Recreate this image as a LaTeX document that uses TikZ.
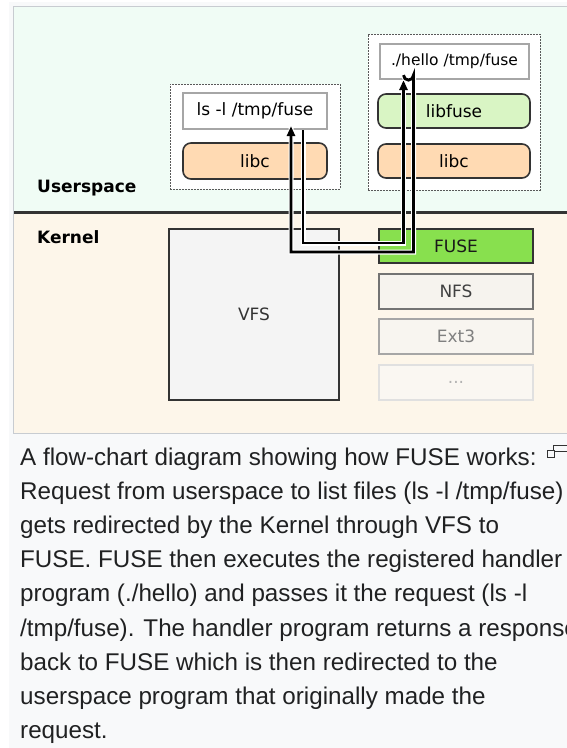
\documentclass[tikz,border=0pt]{standalone}
\usepackage{fontspec}
\setmainfont{Liberation Sans}
\newfontfamily\dv{DejaVu Sans}
\usetikzlibrary{arrows.meta}

\definecolor{userbg}{HTML}{F0FCF5}
\definecolor{kernbg}{HTML}{FDF6EA}
\definecolor{pagebg}{HTML}{F8F9FA}
\definecolor{framec}{HTML}{C8CCD1}
\definecolor{captxt}{HTML}{202122}
\definecolor{peach}{HTML}{FFDAB3}
\definecolor{lightgreen}{HTML}{D9F5C4}
\definecolor{fusegreen}{HTML}{88E04E}
\definecolor{vfsfill}{HTML}{F4F4F4}
\definecolor{nfsfill}{HTML}{F6F3EE}
\definecolor{extfill}{HTML}{F8F5F0}
\definecolor{morefill}{HTML}{FAF7F2}

\tikzset{
  grpbox/.style={draw=black!65, line width=0.9pt, dash pattern=on 1.8pt off 1.2pt,
    fill=white, inner sep=0pt},
  progbox/.style={draw=black!35, line width=2.2pt, fill=white, inner sep=0pt,
    font=\dv\fontsize{17}{20}\selectfont},
  libbox/.style={draw=black!80, line width=1.6pt, rounded corners=8pt, inner sep=0pt,
    font=\dv\fontsize{17}{20}\selectfont},
  kbox/.style={line width=2pt, inner sep=0pt, font=\dv\fontsize{17}{20}\selectfont},
  sidelabel/.style={anchor=base west, inner sep=0pt, font=\dv\bfseries\fontsize{17}{20}\selectfont},
  capline/.style={anchor=base west, inner sep=0pt, text=captxt,
    font=\fontsize{24.2}{28}\selectfont},
  conn/.style={line width=2.9pt, draw=black,
    preaction={draw=white, line width=5pt, arrows=-}},
  tipped/.style={-{Triangle[length=10pt,width=8pt]}}
}

\begin{document}
\begin{tikzpicture}[x=1pt,y=-1pt]
\useasboundingbox (0,0) rectangle (567,748);

% page and frame backgrounds
\fill[pagebg] (9,2) rectangle (590,760);
\fill[userbg] (14,7) rectangle (590,212.5);
\fill[kernbg] (14,212.5) rectangle (590,433);
\draw[framec, line width=1pt] (590,6.5) -| (13.5,433.5) -- (590,433.5);
\draw[black!80, line width=2.2pt] (14,212.5) -- (590,212.5);

% layer labels
\node[sidelabel] (userlbl) at (37,192) {Userspace};
\node[sidelabel] (kernlbl) at (37,243) {Kernel};

% userspace processes
\node[grpbox, minimum width=170pt, minimum height=105pt] (grpleft) at (255,136.5) {};
\node[grpbox, minimum width=172pt, minimum height=156pt] (grpright) at (454,112) {};

\node[progbox, minimum width=144pt, minimum height=36pt] (lsbox) at (255,111) {ls -l /tmp/fuse};
\node[libbox, fill=peach, minimum width=144pt, minimum height=36pt] (libcA) at (255,161) {libc};

\node[progbox, font=\dv\fontsize{15.5}{18}\selectfont, minimum width=149pt, minimum height=35pt] (hello) at (454.5,61.5) {./hello /tmp/fuse};
\node[libbox, fill=lightgreen, minimum width=152pt, minimum height=34pt] (libfuse) at (454,111) {libfuse};
\node[libbox, fill=peach, minimum width=152pt, minimum height=34pt] (libcB) at (454,161) {libc};

% kernel components
\node[kbox, draw=black!80, fill=vfsfill, text=black!80, minimum width=170pt, minimum height=171pt] (vfs) at (254,314.5) {VFS};
\node[kbox, draw=black!80, fill=fusegreen, text=black!90, minimum width=154pt, minimum height=34pt] (fuse) at (456,246) {FUSE};
\node[kbox, draw=black!55, fill=nfsfill, text=black!75, minimum width=154pt, minimum height=35pt] (nfs) at (456,291.5) {NFS};
\node[kbox, draw=black!35, fill=extfill, text=black!50, minimum width=154pt, minimum height=35pt] (ext3) at (456,336.5) {Ext3};
\node[kbox, draw=black!12, fill=morefill, text=black!30, minimum width=154pt, minimum height=35pt] (more) at (456,382.5) {...};

% request path: ls -> VFS -> FUSE -> ./hello
\coordinate (reqdown) at (303,243);
\coordinate (requp) at (403.5,243);
\draw[conn, tipped] ([xshift=48pt]lsbox.south) -- (reqdown) -- (requp)
  -- ([xshift=-51pt]hello.south);

% response path: ./hello -> FUSE -> VFS -> ls
\coordinate (respdown) at (413.5,252);
\coordinate (respup) at (291,252);
\draw[conn, tipped] ([xshift=-51pt, yshift=5pt]hello.south)
  arc[start angle=180, end angle=360, radius=5pt] -- (respdown) -- (respup)
  -- ([xshift=36pt, yshift=4pt]lsbox.south);

% caption
\node[capline] (cap1) at (20,465.0) {A flow-chart diagram showing how FUSE works:};
\node[capline] (cap2) at (20,499.2) {Request from userspace to list files (ls -l /tmp/fuse)};
\node[capline] (cap3) at (20,533.4) {gets redirected by the Kernel through VFS to};
\node[capline] (cap4) at (20,567.6) {FUSE. FUSE then executes the registered handler};
\node[capline] (cap5) at (20,601.8) {program (./hello) and passes it the request (ls -l};
\node[capline] (cap6) at (20,636.0) {/tmp/fuse). The handler program returns a response};
\node[capline] (cap7) at (20,670.2) {back to FUSE which is then redirected to the};
\node[capline] (cap8) at (20,704.4) {userspace program that originally made the};
\node[capline] (cap9) at (20,738.6) {request.};

% enlarge icon
\draw[black!80, line width=1pt] (553.5,451.5) |- (590,445.5);
\draw[black!80, line width=1pt] (553.5,451.5) -- (590,451.5);
\draw[black!80, line width=1pt, fill=pagebg] (547.5,450.5) rectangle (554.5,457.5);
\end{tikzpicture}
\end{document}
